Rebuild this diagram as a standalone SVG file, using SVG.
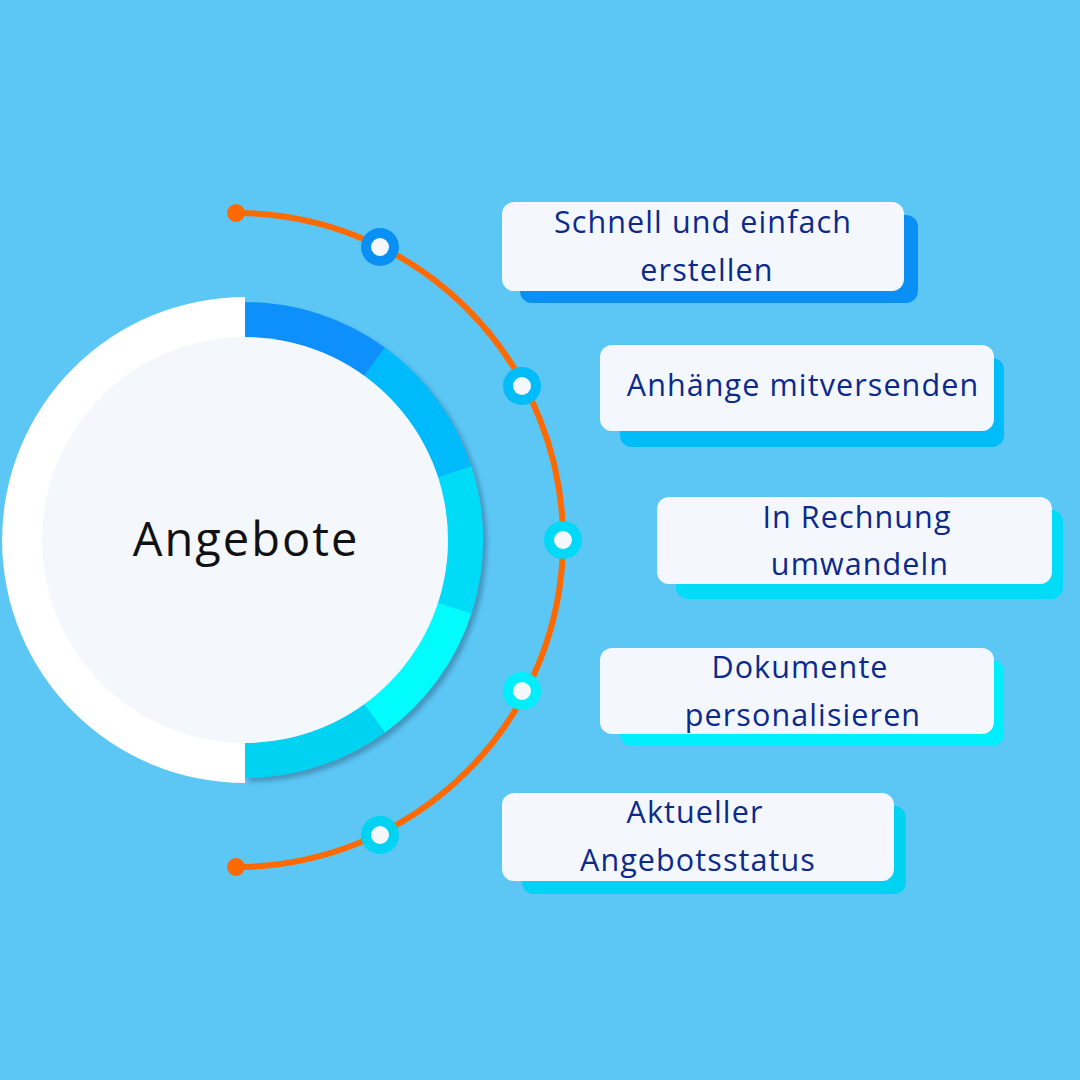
<svg xmlns="http://www.w3.org/2000/svg" width="1080" height="1080" viewBox="0 0 1080 1080">
<defs>
<style>
.card{fill:#f4f8fe;}
.lbl{font-family:"Open Sans","Lato",sans-serif;font-size:30.5px;letter-spacing:1.1px;fill:#0c2a8c;text-anchor:middle;}
.title{font-family:"Open Sans","Lato",sans-serif;font-size:47px;letter-spacing:2px;fill:#111111;text-anchor:middle;}
.dotc{fill:#f4f8fe;}
</style>
<filter id="sh" x="-10%" y="-10%" width="130%" height="130%">
<feDropShadow dx="4" dy="4" stdDeviation="2" flood-color="#1a3a5a" flood-opacity="0.35"/>
</filter>
</defs>
<rect width="1080" height="1080" fill="#5cc6f5"/>

<g id="hub">
<path d="M245,297 A243,243 0 0 0 245,783 Z" fill="#ffffff"/>
<g filter="url(#sh)">
<path d="M245,302 A238,238 0 0 1 384.9,347.5 L364.3,375.8 A203,203 0 0 0 245,337 Z" fill="#0a90fb"/>
<path d="M384.9,347.5 A238,238 0 0 1 471.4,466.5 L438.1,477.3 A203,203 0 0 0 364.3,375.8 Z" fill="#00bbfb"/>
<path d="M471.4,466.5 A238,238 0 0 1 471.4,613.5 L438.1,602.7 A203,203 0 0 0 438.1,477.3 Z" fill="#00dcf8"/>
<path d="M471.4,613.5 A238,238 0 0 1 384.9,732.5 L364.3,704.2 A203,203 0 0 0 438.1,602.7 Z" fill="#00fcfc"/>
<path d="M384.9,732.5 A238,238 0 0 1 245,778 L245,743 A203,203 0 0 0 364.3,704.2 Z" fill="#00d2f2"/>
</g>
<circle cx="245" cy="540" r="203" fill="#f4f8fd"/>
<text class="title" x="246" y="556">Angebote</text>
</g>

<g id="connectors">
<path d="M236,213 A327,327 0 0 1 236,867" fill="none" stroke="#ff6a00" stroke-width="6"/>
<circle cx="236" cy="213" r="9" fill="#ff6a00"/>
<circle cx="236" cy="867" r="9" fill="#ff6a00"/>
</g>

<g id="dot1"><circle cx="380" cy="247" r="19" fill="#0a8ff5"/><circle class="dotc" cx="380" cy="247" r="9"/></g>
<g id="dot2"><circle cx="522" cy="386" r="19" fill="#00bcf8"/><circle class="dotc" cx="522" cy="386" r="9"/></g>
<g id="dot3"><circle cx="563" cy="540" r="19" fill="#00d8f8"/><circle class="dotc" cx="563" cy="540" r="9"/></g>
<g id="dot4"><circle cx="522" cy="691" r="19" fill="#00eefc"/><circle class="dotc" cx="522" cy="691" r="9"/></g>
<g id="dot5"><circle cx="380" cy="835" r="19" fill="#00d2f2"/><circle class="dotc" cx="380" cy="835" r="9"/></g>

<g id="card1">
<rect x="520" y="215" width="398" height="88" rx="12" fill="#0a8ff5"/>
<rect class="card" x="502" y="202" width="402" height="89" rx="12"/>
<text class="lbl" x="703" y="233">Schnell und einfach</text>
<text class="lbl" x="707" y="281">erstellen</text>
</g>

<g id="card2">
<rect x="620" y="358" width="384" height="89" rx="12" fill="#00bcf8"/>
<rect class="card" x="600" y="345" width="394" height="86" rx="12"/>
<text class="lbl" x="803" y="396">Anhänge mitversenden</text>
</g>

<g id="card3">
<rect x="676" y="510" width="387" height="89" rx="12" fill="#00dcf8"/>
<rect class="card" x="657" y="497" width="395" height="87" rx="12"/>
<text class="lbl" x="857" y="528">In Rechnung</text>
<text class="lbl" x="860" y="575">umwandeln</text>
</g>

<g id="card4">
<rect x="620" y="660" width="384" height="86" rx="12" fill="#00eefc"/>
<rect class="card" x="600" y="648" width="394" height="86" rx="12"/>
<text class="lbl" x="800" y="678">Dokumente</text>
<text class="lbl" x="803" y="726">personalisieren</text>
</g>

<g id="card5">
<rect x="522" y="806" width="384" height="88" rx="12" fill="#00d2f2"/>
<rect class="card" x="502" y="793" width="392" height="88" rx="12"/>
<text class="lbl" x="695" y="823">Aktueller</text>
<text class="lbl" x="698" y="871">Angebotsstatus</text>
</g>
</svg>
